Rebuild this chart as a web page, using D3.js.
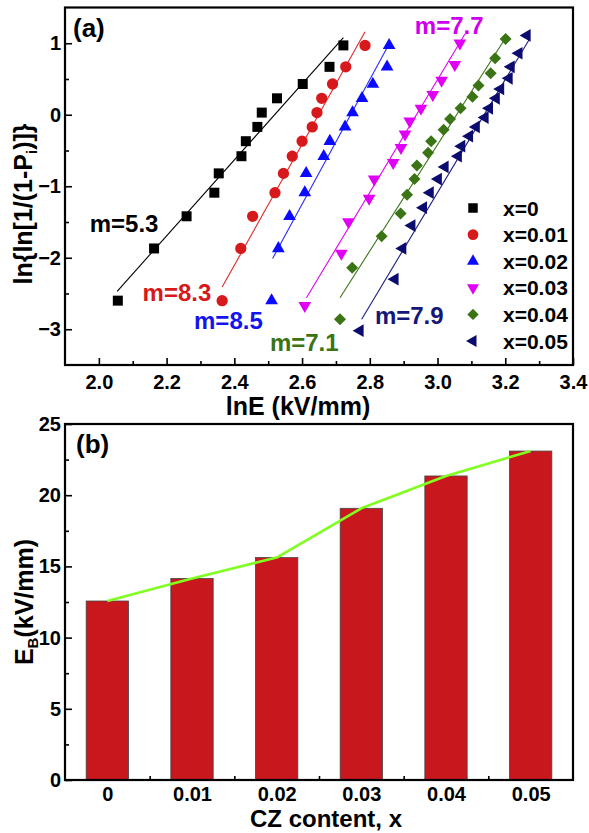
<!DOCTYPE html>
<html>
<head>
<meta charset="utf-8">
<script src="https://cdn.jsdelivr.net/npm/d3@7.9.0/dist/d3.min.js"></script>
<style>
  body { margin: 0; background: #fff; }
  svg { display: block; font-family: Arial, "Liberation Sans", sans-serif; font-weight: bold; }
</style>
</head>
<body>
<svg id="chart" width="589" height="833"></svg>
<script>
// ---- (a) Weibull plot: lnE vs ln{ln[1/(1-Pi)]}, one pair of arrays per composition ----
const lnE_00 = [2.056, 2.163, 2.259, 2.341, 2.354, 2.421, 2.434, 2.468, 2.481, 2.526, 2.602, 2.681, 2.722];
const lnW_00 = [-2.60, -1.87, -1.42, -1.09, -0.82, -0.58, -0.37, -0.17, 0.03, 0.23, 0.43, 0.67, 0.97];
const lnE_01 = [2.364, 2.419, 2.454, 2.520, 2.545, 2.571, 2.600, 2.630, 2.644, 2.658, 2.690, 2.729, 2.786];
const lnW_01 = [-2.60, -1.87, -1.42, -1.09, -0.82, -0.58, -0.37, -0.17, 0.03, 0.23, 0.43, 0.67, 0.97];
const lnE_02 = [2.510, 2.530, 2.563, 2.608, 2.612, 2.664, 2.682, 2.727, 2.749, 2.777, 2.809, 2.851, 2.857];
const lnW_02 = [-2.60, -1.87, -1.42, -1.09, -0.82, -0.58, -0.37, -0.17, 0.03, 0.23, 0.43, 0.67, 0.97];
const lnE_03 = [2.608, 2.716, 2.737, 2.798, 2.813, 2.869, 2.892, 2.904, 2.918, 2.951, 2.986, 3.012, 3.051, 3.066];
const lnW_03 = [-2.67, -1.94, -1.50, -1.17, -0.90, -0.67, -0.46, -0.27, -0.09, 0.09, 0.28, 0.48, 0.70, 1.00];
const lnE_04 = [2.712, 2.748, 2.835, 2.891, 2.910, 2.932, 2.939, 2.972, 2.981, 3.018, 3.037, 3.068, 3.103, 3.121, 3.157, 3.170, 3.201];
const lnW_04 = [-2.86, -2.14, -1.70, -1.38, -1.12, -0.90, -0.71, -0.53, -0.37, -0.21, -0.06, 0.09, 0.25, 0.41, 0.58, 0.79, 1.06];
const lnE_05 = [2.771, 2.874, 2.897, 2.924, 2.958, 2.978, 3.002, 3.022, 3.061, 3.071, 3.094, 3.114, 3.140, 3.153, 3.173, 3.186, 3.211, 3.217, 3.240, 3.264];
const lnW_05 = [-3.02, -2.30, -1.87, -1.55, -1.30, -1.09, -0.90, -0.73, -0.58, -0.44, -0.30, -0.17, -0.04, 0.09, 0.23, 0.36, 0.51, 0.67, 0.86, 1.11];

// fitted lines: [lnE start, y start, lnE end, y end]
const fit_00 = [2.054, -2.47, 2.722, 1.08];
const fit_01 = [2.364, -2.41, 2.786, 1.16];
const fit_02 = [2.513, -2.01, 2.857, 0.99];
const fit_03 = [2.613, -2.56, 3.081, 1.13];
const fit_04 = [2.712, -2.56, 3.203, 1.09];
const fit_05 = [2.776, -2.86, 3.273, 1.07];

const seriesNames = ['x=0', 'x=0.01', 'x=0.02', 'x=0.03', 'x=0.04', 'x=0.05'];
const weibullM = ['m=5.3', 'm=8.3', 'm=8.5', 'm=7.7', 'm=7.1', 'm=7.9'];

const xTicksA = [2.0, 2.2, 2.4, 2.6, 2.8, 3.0, 3.2, 3.4];
const yTicksA = [-3, -2, -1, 0, 1];

// ---- (b) breakdown strength vs CZ content ----
const czContent = [0, 0.01, 0.02, 0.03, 0.04, 0.05];
const czLabels = ['0', '0.01', '0.02', '0.03', '0.04', '0.05'];
const ebValues = [12.57, 14.15, 15.62, 19.08, 21.35, 23.10];
const yTicksB = [0, 5, 10, 15, 20, 25];

// marker styles
const styles = [
  { color: '#000000', line: '#000000', sym: d3.symbolSquare, size: 100, rot: 0 },
  { color: '#d7191c', line: '#e0282a', sym: d3.symbolCircle, size: 100, rot: 0 },
  { color: '#0a0aff', line: '#2a2aff', sym: d3.symbolTriangle, size: 70, rot: 0 },
  { color: '#e000f5', line: '#e000f5', sym: d3.symbolTriangle, size: 70, rot: 180 },
  { color: '#3a7414', line: '#3a7414', sym: d3.symbolSquare, size: 72, rot: 45 },
  { color: '#0c0c6e', line: '#1c1c80', sym: d3.symbolTriangle, size: 70, rot: -90 }
];
const lnEs = [lnE_00, lnE_01, lnE_02, lnE_03, lnE_04, lnE_05];
const lnWs = [lnW_00, lnW_01, lnW_02, lnW_03, lnW_04, lnW_05];
const fits = [fit_00, fit_01, fit_02, fit_03, fit_04, fit_05];
// where each m= label sits (data coords, text start / baseline)
const mLabelAt = [[1.973, -1.64], [2.129, -2.61], [2.281, -3.00], [2.933, 1.135], [2.505, -3.30], [2.815, -2.93]];
const mColors = ['#000000', '#d7191c', '#1414f0', '#cc00ee', '#3a7414', '#16167a'];

const svg = d3.select('#chart');
const mid = arr => d3.pairs(arr).map(([a, b]) => (a + b) / 2);

function styleAxis(g, size) {
  g.attr('font-size', size).attr('font-family', null).attr('font-weight', 'bold');
  g.select('.domain').remove();
  g.selectAll('.tick line').attr('stroke', '#000').attr('stroke-width', 1.6);
  g.selectAll('.tick text').attr('fill', '#000');
}

// ================= panel (a) =================
const xA = d3.scaleLinear().domain([1.9, 3.4]).range([65, 573]);
const yA = d3.scaleLinear().domain([-3.5, 1.5]).range([365, 7.5]);
const gA = svg.append('g');

gA.append('g').attr('transform', `translate(0,${yA(-3.5)})`)
  .call(d3.axisBottom(xA).tickValues(xTicksA).tickFormat(d3.format('.1f')).tickSize(-7).tickPadding(10))
  .call(g => styleAxis(g, 20));
gA.append('g').attr('transform', `translate(0,${yA(-3.5)})`)
  .call(d3.axisBottom(xA).tickValues(mid(xTicksA)).tickFormat('').tickSize(-4))
  .call(g => styleAxis(g, 20));
gA.append('g').attr('transform', `translate(${xA(1.9)},0)`)
  .call(d3.axisLeft(yA).tickValues(yTicksA).tickFormat(d3.format('d')).tickSize(-7).tickPadding(4))
  .call(g => styleAxis(g, 20));
gA.append('g').attr('transform', `translate(${xA(1.9)},0)`)
  .call(d3.axisLeft(yA).tickValues(mid(yTicksA)).tickFormat('').tickSize(-4))
  .call(g => styleAxis(g, 20));

// fitted lines
const fitLine = d3.line().x(d => xA(d[0])).y(d => yA(d[1]));
gA.selectAll('path.fit').data(fits).enter().append('path')
  .attr('class', 'fit')
  .attr('d', f => fitLine([[f[0], f[1]], [f[2], f[3]]]))
  .attr('fill', 'none')
  .attr('stroke', (_, i) => styles[i].line)
  .attr('stroke-width', 1.1);

// markers
lnEs.forEach((xs, i) => {
  const st = styles[i];
  const sym = d3.symbol().type(st.sym).size(st.size);
  gA.append('g').selectAll('path').data(xs.map((v, j) => [v, lnWs[i][j]])).enter().append('path')
    .attr('d', sym)
    .attr('transform', d => `translate(${xA(d[0])},${yA(d[1])}) rotate(${st.rot})`)
    .attr('fill', st.color);
});

// m= labels
gA.selectAll('text.mlab').data(weibullM).enter().append('text')
  .attr('class', 'mlab')
  .attr('x', (_, i) => xA(mLabelAt[i][0]))
  .attr('y', (_, i) => yA(mLabelAt[i][1]))
  .attr('font-size', 24)
  .attr('fill', (_, i) => mColors[i])
  .text(d => d);

// legend
const legA = gA.append('g');
seriesNames.forEach((name, i) => {
  const st = styles[i];
  const yy = 208 + i * 26.6;
  legA.append('path')
    .attr('d', d3.symbol().type(st.sym).size(st.size * 0.9))
    .attr('transform', `translate(473,${yy}) rotate(${st.rot})`)
    .attr('fill', st.color);
  legA.append('text').attr('x', 503).attr('y', yy + 7.5)
    .attr('font-size', 21).attr('fill', '#000').text(name);
});

gA.append('rect')
  .attr('x', xA(1.9)).attr('y', yA(1.5))
  .attr('width', xA(3.4) - xA(1.9)).attr('height', yA(-3.5) - yA(1.5))
  .attr('fill', 'none').attr('stroke', '#000').attr('stroke-width', 2.2);

gA.append('text').attr('x', 73).attr('y', 37).attr('font-size', 26).text('(a)');
gA.append('text').attr('x', 298).attr('y', 415).attr('font-size', 25)
  .attr('text-anchor', 'middle').text('lnE (kV/mm)');
const yTitleA = gA.append('text')
  .attr('transform', 'translate(32,204) rotate(-90)')
  .attr('text-anchor', 'middle').attr('font-size', 25);
yTitleA.append('tspan').text('ln{ln[1/(1-P');
yTitleA.append('tspan').attr('font-size', 15).attr('dy', 5).text('i');
yTitleA.append('tspan').attr('dy', -5).text(')]}');

// ================= panel (b) =================
const xB = d3.scaleLinear().domain([-0.005, 0.055]).range([65, 573]);
const yB = d3.scaleLinear().domain([0, 25]).range([780, 424]);
const gB = svg.append('g');
const barW = xB(0.005) - xB(0);

gB.append('g').attr('transform', `translate(0,${yB(0)})`)
  .call(d3.axisBottom(xB).tickValues(czContent).tickFormat((_, i) => czLabels[i]).tickSize(-7).tickPadding(7))
  .call(g => styleAxis(g, 20));
gB.append('g').attr('transform', `translate(0,${yB(0)})`)
  .call(d3.axisBottom(xB).tickValues(mid(czContent)).tickFormat('').tickSize(-4))
  .call(g => styleAxis(g, 20));
gB.append('g').attr('transform', `translate(${xB(-0.005)},0)`)
  .call(d3.axisLeft(yB).tickValues(yTicksB).tickFormat(d3.format('d')).tickSize(-7).tickPadding(4))
  .call(g => styleAxis(g, 20));
gB.append('g').attr('transform', `translate(${xB(-0.005)},0)`)
  .call(d3.axisLeft(yB).tickValues(mid(yTicksB)).tickFormat('').tickSize(-4))
  .call(g => styleAxis(g, 20));

gB.selectAll('rect.bar').data(ebValues).enter().append('rect')
  .attr('class', 'bar')
  .attr('x', (_, i) => xB(czContent[i]) - barW / 2)
  .attr('y', d => yB(d))
  .attr('width', barW)
  .attr('height', d => yB(0) - yB(d))
  .attr('fill', '#c8171d')
  .attr('stroke', '#444')
  .attr('stroke-width', 0.8);

gB.append('path')
  .datum(ebValues.map((v, i) => [czContent[i], v]))
  .attr('d', d3.line().x(d => xB(d[0])).y(d => yB(d[1])))
  .attr('fill', 'none').attr('stroke', '#80ff20').attr('stroke-width', 2.6)
  .attr('stroke-linejoin', 'round');

gB.append('rect')
  .attr('x', xB(-0.005)).attr('y', yB(25))
  .attr('width', xB(0.055) - xB(-0.005)).attr('height', yB(0) - yB(25))
  .attr('fill', 'none').attr('stroke', '#000').attr('stroke-width', 2.2);

gB.append('text').attr('x', 76).attr('y', 453).attr('font-size', 26).text('(b)');
gB.append('text').attr('x', 326).attr('y', 827).attr('font-size', 24)
  .attr('text-anchor', 'middle').text('CZ content, x');
const yTitleB = gB.append('text')
  .attr('transform', 'translate(33,602) rotate(-90)')
  .attr('text-anchor', 'middle').attr('font-size', 25);
yTitleB.append('tspan').text('E');
yTitleB.append('tspan').attr('font-size', 15).attr('dy', 5).text('B');
yTitleB.append('tspan').attr('dy', -5).text('(kV/mm)');
</script>
</body>
</html>
